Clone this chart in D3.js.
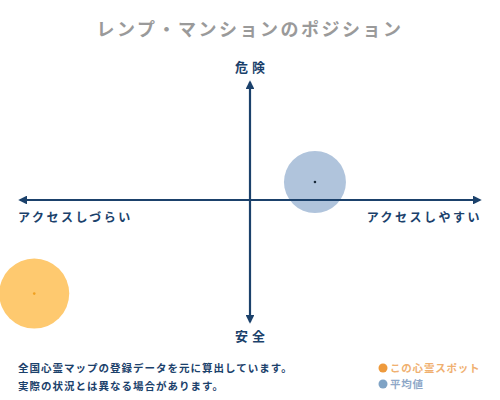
<!DOCTYPE html>
<html><head><meta charset="utf-8">
<script src="https://cdn.jsdelivr.net/npm/d3@7"></script>
<style>
body{margin:0;background:#fff;}
text{font-family:"Noto Sans CJK JP","Noto Sans",sans-serif;}
</style></head>
<body><svg id="c" width="500" height="400"></svg>
<script>
const title = "レンプ・マンションのポジション";
const axisTop = "危険", axisBottom = "安全";
const axisLeft = "アクセスしづらい", axisRight = "アクセスしやすい";
const seriesNames = ["この心霊スポット", "平均値"];
const seriesX = [-93, 28];
const seriesY = [-78, 15];
const seriesR = [35, 31];
const seriesFill = ["#fec96f", "#b0c4dc"];
const seriesDot = ["#f0a020", "#1a2a3a"];
const legendDot = ["#ee9a3c", "#7fa3c5"];
const legendText = ["#f0b070", "#8fa8c8"];
const notes = ["全国心霊マップの登録データを元に算出しています。", "実際の状況とは異なる場合があります。"];

const svg = d3.select("#c");
const navy = "#1b416b";
const x = d3.scaleLinear().domain([-100, 100]).range([18, 482]);
const y = d3.scaleLinear().domain([-100, 100]).range([320, 80]);

svg.append("text").attr("x", 250).attr("y", 36).attr("text-anchor", "middle")
  .attr("fill", "#9a9a9a").attr("font-size", 18).attr("font-weight", "bold")
  .attr("letter-spacing", 2.5).text(title);

// bubbles
const data = seriesX.map((v, i) => ({x: v, y: seriesY[i], r: seriesR[i], fill: seriesFill[i], dot: seriesDot[i]}));
svg.selectAll("circle.b").data(data).enter().append("circle").attr("class", "b")
  .attr("cx", d => x(d.x)).attr("cy", d => y(d.y)).attr("r", d => d.r).attr("fill", d => d.fill);
svg.selectAll("circle.d").data(data).enter().append("circle").attr("class", "d")
  .attr("cx", d => x(d.x)).attr("cy", d => y(d.y)).attr("r", 1.3).attr("fill", d => d.dot);

// axes
const defs = svg.append("defs");
defs.append("marker").attr("id", "ah").attr("viewBox", "0 0 10 10").attr("refX", 8).attr("refY", 5)
  .attr("markerWidth", 4).attr("markerHeight", 4).attr("orient", "auto-start-reverse")
  .append("path").attr("d", "M0,0 L10,5 L0,10 z").attr("fill", navy);
svg.append("line").attr("x1", x(-100)+2).attr("x2", x(100)-2).attr("y1", y(0)).attr("y2", y(0))
  .attr("stroke", navy).attr("stroke-width", 2.2)
  .attr("marker-start", "url(#ah)").attr("marker-end", "url(#ah)");
svg.append("line").attr("x1", x(0)).attr("x2", x(0)).attr("y1", y(100)+2).attr("y2", y(-100)+2)
  .attr("stroke", navy).attr("stroke-width", 2.2)
  .attr("marker-start", "url(#ah)").attr("marker-end", "url(#ah)");

svg.append("text").attr("x", 252).attr("y", 72).attr("text-anchor", "middle").attr("fill", navy)
  .attr("font-size", 13).attr("font-weight", "bold").attr("letter-spacing", 4).text(axisTop);
svg.append("text").attr("x", 252).attr("y", 341).attr("text-anchor", "middle").attr("fill", navy)
  .attr("font-size", 13).attr("font-weight", "bold").attr("letter-spacing", 4).text(axisBottom);
svg.append("text").attr("x", 18).attr("y", 222).attr("fill", navy)
  .attr("font-size", 12).attr("font-weight", "bold").attr("letter-spacing", 2.5).text(axisLeft);
svg.append("text").attr("x", 482).attr("y", 222).attr("text-anchor", "end").attr("fill", navy)
  .attr("font-size", 12).attr("font-weight", "bold").attr("letter-spacing", 2.5).text(axisRight);

// notes
notes.forEach((t, i) => {
  svg.append("text").attr("x", 18).attr("y", 372 + i * 18).attr("fill", navy)
    .attr("font-size", 10.5).attr("font-weight", "bold").attr("letter-spacing", 1).text(t);
});

// legend
seriesNames.forEach((n, i) => {
  svg.append("circle").attr("cx", 383).attr("cy", 368 + i * 16).attr("r", 4.5).attr("fill", legendDot[i]);
  svg.append("text").attr("x", 390).attr("y", 372 + i * 16).attr("fill", legendText[i])
    .attr("font-size", 10.5).attr("font-weight", "bold").attr("letter-spacing", 0.8).text(n);
});
</script></body></html>
